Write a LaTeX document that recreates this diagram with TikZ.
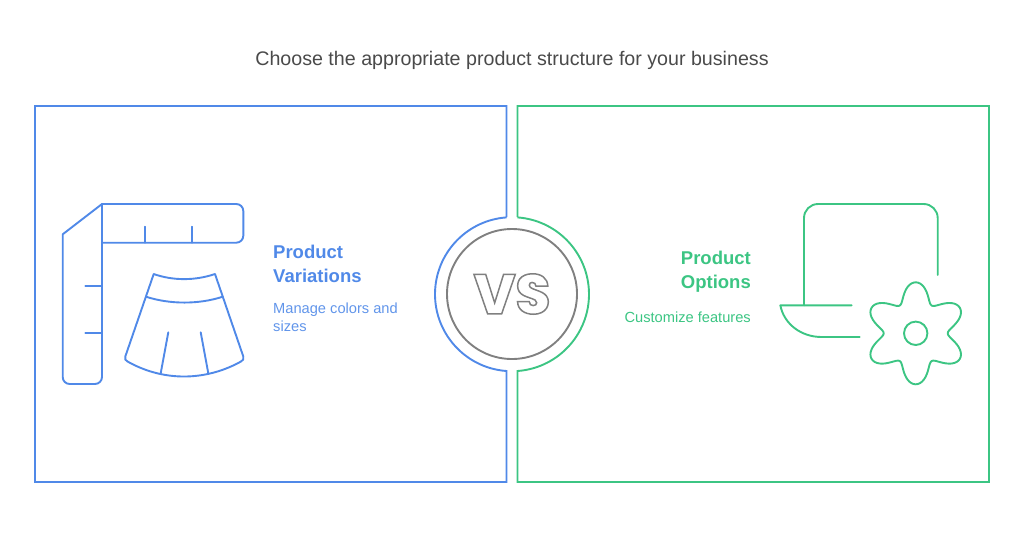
\documentclass[tikz,border=0pt]{standalone}
\usepackage{fontspec}
\setmainfont{Liberation Sans}
\newfontfamily\vsfont{Poppins ExtraBold}
\usetikzlibrary{positioning}
\definecolor{varblue}{HTML}{5089E8}
\definecolor{optgreen}{HTML}{3CC583}
\definecolor{vsgray}{HTML}{808080}
\definecolor{titlegray}{HTML}{4A4A4A}
\newcommand{\outlined}[1]{\special{pdf:code q 1 Tr 1.5 w 0.5 G}#1\special{pdf:code Q}}
\tikzset{
    panel/.style={line width=1.9pt, line join=miter},
    icon/.style={line width=1.9pt, line cap=round, line join=round},
    headtext/.style={font=\fontsize{18.5}{23.5}\selectfont\bfseries, inner sep=0pt},
    subtext/.style={font=\fontsize{14.65}{18}\selectfont, inner sep=0pt}
}
\begin{document}
\begin{tikzpicture}[x=1pt, y=-1pt]
    \useasboundingbox (0,0) rectangle (1024,542);
    \node [text=titlegray, font=\fontsize{19.65}{22}\selectfont, inner sep=0pt] (title) at (512,60) {Choose the appropriate product structure for your business};
    % panels
    \draw [panel, varblue] (506.5,217) -- (506.5,106) -- (35,106) -- (35,482) -- (506.5,482) -- (506.5,371) arc [start angle=94.1, delta angle=171.8, radius=77];
    \draw [panel, optgreen] (517.5,217) -- (517.5,106) -- (989,106) -- (989,482) -- (517.5,482) -- (517.5,371) arc [start angle=85.9, delta angle=-171.8, radius=77];
    \node [circle, draw=vsgray, line width=1.9pt, minimum size=130pt, inner sep=0pt] (vs) at (512,294) {\fontsize{56}{56}\selectfont\vsfont\outlined{VS}};
    % ruler
    \draw [icon, varblue] (102,204) [rounded corners=7pt] -- (102,384) -- (62.7,384) [sharp corners] -- (62.7,234.3) -- cycle;
    \draw [icon, varblue, rounded corners=7pt] (102,204) -- (243.3,204) -- (243.3,242.7) -- (102,242.7);
    \draw [icon, varblue] (145,226.7) -- (145,242.7);
    \draw [icon, varblue] (192,226.7) -- (192,242.7);
    \draw [icon, varblue] (85.3,286) -- (102,286);
    \draw [icon, varblue] (85.3,333) -- (102,333);
    % skirt
    \draw [icon, varblue] (153.7,274) .. controls (173,280.8) and (195,280.8) .. (215,274) -- (243.3,356.5) .. controls (244,359) and (243,360.5) .. (241,361.5) .. controls (205,381.5) and (163,381.5) .. (127.5,361.5) .. controls (125.5,360.5) and (124.5,359) .. (125.3,356.5) -- cycle;
    \draw [icon, varblue] (146,296.7) .. controls (170,304.5) and (199,304.5) .. (222.7,296.7);
    \draw [icon, varblue] (168.3,332.3) -- (160.7,373.3);
    \draw [icon, varblue] (200.7,332.3) -- (208.3,373.3);
    % laptop
    \draw [icon, optgreen, rounded corners=14pt] (804,305.3) -- (804,204) -- (937.7,204) -- (937.7,275);
    \draw [icon, optgreen] (851.7,305.3) -- (780.3,305.3) .. controls (784,324) and (801,337) .. (821.7,337) -- (859.7,337);
    % gear
    \draw [icon, optgreen] plot [domain=0:360, samples=145] ({915.7+(42+9.5*cos(6*\x-540)-0.5*cos(12*\x))*cos(\x)}, {333.3+(42+9.5*cos(6*\x-540)-0.5*cos(12*\x))*sin(\x)}) -- cycle;
    \draw [icon, optgreen] (915.7,333.3) circle [radius=11.7];
    % labels
    \node [headtext, text=varblue, align=left, anchor=north west] (varhead) at (273,245) {Product\\Variations};
    \node [subtext, text=varblue!90!white, align=left, anchor=north west] (varsub) at (273,303) {Manage colors and\\sizes};
    \node [headtext, text=optgreen, align=right, anchor=north east] (opthead) at (751,251) {Product\\Options};
    \node [subtext, text=optgreen, align=right, anchor=north east] (optsub) at (751,312) {Customize features};
\end{tikzpicture}
\end{document}
